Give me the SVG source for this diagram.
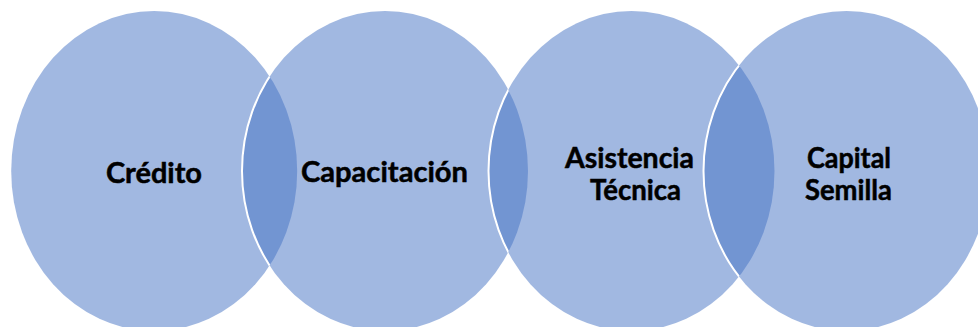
<svg xmlns="http://www.w3.org/2000/svg" width="978" height="327" viewBox="0 0 978 327">
  <style>
    .circ { fill: #4472C4; fill-opacity: 0.5; stroke: none; }
    .edge { fill: none; stroke: #FFFFFF; stroke-width: 2; }
    .lbl { font-family: Lato, "Open Sans", "Liberation Sans", sans-serif; font-weight: bold; font-size: 28.5px; fill: #000000; stroke: #000000; stroke-width: 0.5; text-anchor: middle; }
  </style>
  <defs>
    <clipPath id="clip1"><ellipse cx="154.2" cy="171" rx="143" ry="160"/></clipPath>
    <clipPath id="clip2"><ellipse cx="385" cy="171" rx="143" ry="160"/></clipPath>
    <clipPath id="clip3"><ellipse cx="631.5" cy="171" rx="143" ry="160"/></clipPath>
  </defs>
  <rect width="978" height="327" fill="#FFFFFF"/>
  <g id="credito">
    <ellipse class="circ" cx="154.2" cy="171" rx="143" ry="160"/>
  </g>
  <g id="capacitacion">
    <ellipse class="circ" cx="385" cy="171" rx="143" ry="160"/>
  </g>
  <g id="asistencia-tecnica">
    <ellipse class="circ" cx="631.5" cy="171" rx="143" ry="160"/>
  </g>
  <g id="capital-semilla">
    <ellipse class="circ" cx="846.5" cy="171" rx="143" ry="160"/>
  </g>
  <g id="outlines">
    <ellipse class="edge" cx="385" cy="171" rx="143" ry="160" clip-path="url(#clip1)"/>
    <ellipse class="edge" cx="631.5" cy="171" rx="143" ry="160" clip-path="url(#clip2)"/>
    <ellipse class="edge" cx="846.5" cy="171" rx="143" ry="160" clip-path="url(#clip3)"/>
  </g>
  <g id="labels">
    <text class="lbl" x="154" y="182.5" textLength="96" lengthAdjust="spacingAndGlyphs">Crédito</text>
    <text class="lbl" x="384.5" y="182" textLength="167" lengthAdjust="spacingAndGlyphs">Capacitación</text>
    <text class="lbl" x="629.5" y="168" textLength="129" lengthAdjust="spacingAndGlyphs">Asistencia</text>
    <text class="lbl" x="635.5" y="200" textLength="91" lengthAdjust="spacingAndGlyphs">Técnica</text>
    <text class="lbl" x="849" y="168" textLength="84" lengthAdjust="spacingAndGlyphs">Capital</text>
    <text class="lbl" x="848.5" y="200" textLength="87" lengthAdjust="spacingAndGlyphs">Semilla</text>
  </g>
</svg>
